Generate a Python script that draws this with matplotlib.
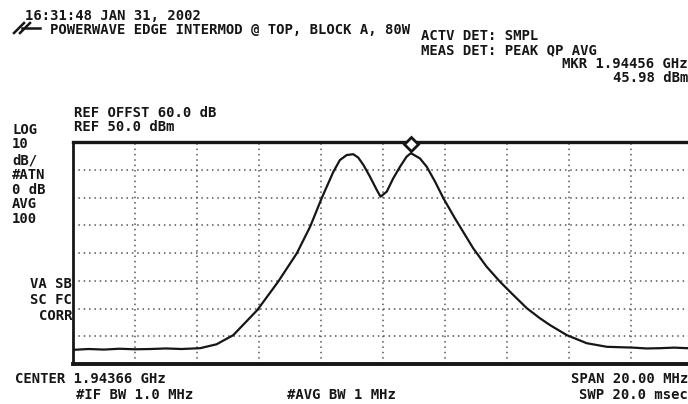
import numpy as np
import matplotlib.pyplot as plt
from matplotlib import transforms
from matplotlib.lines import Line2D

W, H = 688, 404

# analyzer settings
center_ghz = 1.94366
span_mhz = 20.0
ref_dbm = 50.0
ref_offset_db = 60.0
db_per_div = 10
n_ydiv = 8
n_xdiv = 10
mkr_ghz = 1.94456
mkr_dbm = 45.98

# trace (offset from center in MHz, level in dBm)
freq_mhz = [-10.0, -9.5, -9.0, -8.5, -8.0, -7.5, -7.0, -6.5, -5.9, -5.37,
            -4.83, -4.05, -3.38, -2.78, -2.35, -1.98, -1.6, -1.39, -1.17, -0.96,
            -0.8, -0.63, -0.42, -0.2, -0.08, 0.12, 0.33, 0.55, 0.76, 0.9,
            1.19, 1.41, 1.68, 1.95, 2.32, 2.91, 3.34, 3.77, 4.2, 4.64,
            5.06, 5.39, 5.93, 6.57, 7.22, 8.07, 8.5, 8.94, 9.4, 9.8, 10.0]
level_dbm = [-24.9, -24.6, -24.8, -24.5, -24.7, -24.6, -24.4, -24.6, -24.3, -22.9,
             -19.6, -10.5, -0.3, 9.9, 19.5, 29.7, 39.3, 43.5, 45.3, 45.6,
             44.4, 41.7, 37.5, 32.7, 30.3, 32.1, 36.9, 41.1, 44.7, 45.98,
             44.1, 41.1, 35.7, 29.7, 22.5, 11.7, 5.1, -0.3, -5.1, -9.9,
             -13.5, -16.0, -19.6, -22.5, -23.8, -24.1, -24.4, -24.3, -24.1, -24.3, -24.3]

left_labels = ["LOG", str(db_per_div), "dB/", "#ATN", "0 dB", "AVG", "100"]
corr_labels = ["VA SB", "SC FC", "CORR"]

ink = '#161616'


def px(x, y):
    return x / W, 1 - y / H


def txt(x, y, s, ha='left'):
    # y is the top of the caps
    fig.text(*px(x, y), s, ha=ha, va='top', family='DejaVu Sans Mono',
             weight='bold', size=10, color=ink)


fig = plt.figure(figsize=(W / 100, H / 100), dpi=100)
ax = fig.add_axes([73 / W, 1 - 364 / H, 620 / W, 222 / H])

ax.plot(freq_mhz, level_dbm, color=ink, lw=1.6, zorder=3)

ax.set_xlim(-span_mhz / 2, span_mhz / 2)
ax.set_ylim(ref_dbm - n_ydiv * db_per_div, ref_dbm)
ax.set_xticks(np.linspace(-span_mhz / 2, span_mhz / 2, n_xdiv + 1))
ax.set_yticks(np.arange(ref_dbm - n_ydiv * db_per_div, ref_dbm + 1, db_per_div))
ax.grid(True, color='#555555', ls=(0, (1, 2.5)), lw=1.1)
ax.tick_params(length=0, labelbottom=False, labelleft=False)
for side, lw in [('top', 2.4), ('bottom', 2.8), ('left', 2.0), ('right', 2.0)]:
    ax.spines[side].set_linewidth(lw)
    ax.spines[side].set_color(ink)

# marker symbol sits just above the marked point
mkr_off = (mkr_ghz - center_ghz) * 1000
tr = transforms.offset_copy(ax.transData, fig=fig, x=0, y=9, units='dots')
ax.plot([mkr_off], [mkr_dbm], marker='D', ms=7, mfc='white', mec=ink, mew=2,
        transform=tr, clip_on=False, zorder=5)

# hp logo scribble
for x0, x1 in [(14, 24), (20, 30)]:
    fig.add_artist(Line2D([px(x0, 33)[0], px(x1, 23)[0]], [px(x0, 33)[1], px(x1, 23)[1]],
                          color=ink, lw=1.8))
fig.add_artist(Line2D([px(22, 28)[0], px(40, 28)[0]], [px(22, 28)[1], px(40, 28)[1]],
                      color=ink, lw=1.8))

# header
txt(25, 9, "16:31:48 JAN 31, 2002")
txt(50, 23, "POWERWAVE EDGE INTERMOD @ TOP, BLOCK A, 80W")
txt(421, 29, "ACTV DET: SMPL")
txt(421, 43, "MEAS DET: PEAK QP AVG")
txt(688, 57, f"MKR {mkr_ghz:.5f} GHz", ha='right')
txt(688, 71, f"{mkr_dbm:.2f} dBm", ha='right')
txt(74, 106, f"REF OFFST {ref_offset_db:.1f} dB")
txt(74, 120, f"REF {ref_dbm:.1f} dBm")

# left column
for s, y in zip(left_labels, [123, 137, 154, 168, 183, 197, 212]):
    txt(12, y, s)
for s, y in zip(corr_labels, [277, 293, 309]):
    txt(72, y, s, ha='right')

# footer
txt(15, 372, f"CENTER {center_ghz:.5f} GHz")
txt(76, 388, "#IF BW 1.0 MHz")
txt(287, 388, "#AVG BW 1 MHz")
txt(688, 372, f"SPAN {span_mhz:.2f} MHz", ha='right')
txt(688, 388, "SWP 20.0 msec", ha='right')

fig.savefig('out.png', dpi=100, facecolor='white')
